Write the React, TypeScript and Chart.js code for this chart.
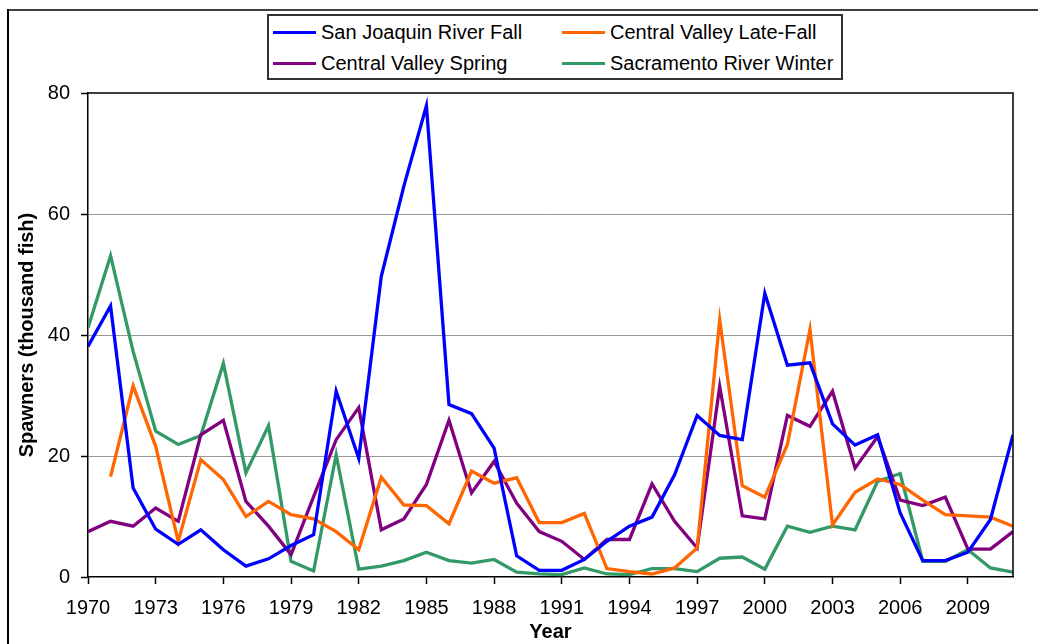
import React, { useEffect, useRef } from "react";
import { Chart, registerables } from "chart.js";

Chart.register(...registerables);

const years: number[] = [
  1970, 1971, 1972, 1973, 1974, 1975, 1976, 1977, 1978, 1979,
  1980, 1981, 1982, 1983, 1984, 1985, 1986, 1987, 1988, 1989,
  1990, 1991, 1992, 1993, 1994, 1995, 1996, 1997, 1998, 1999,
  2000, 2001, 2002, 2003, 2004, 2005, 2006, 2007, 2008, 2009,
  2010, 2011,
];

const tickYears: number[] = [1970, 1973, 1976, 1979, 1982, 1985, 1988, 1991, 1994, 1997, 2000, 2003, 2006, 2009];

const sanJoaquinFall: (number | null)[] = [
  38.1, 44.8, 14.7, 7.9, 5.4, 7.8, 4.5, 1.8, 3.0, 5.2,
  7.0, 30.7, 19.6, 49.7, 64.6, 77.9, 28.5, 27.0, 21.3, 3.5,
  1.1, 1.1, 2.9, 5.9, 8.4, 9.9, 16.9, 26.7, 23.4, 22.7,
  46.9, 35.0, 35.4, 25.3, 21.8, 23.5, 10.6, 2.7, 2.7, 4.1,
  9.5, 23.5,
];

const cvLateFall: (number | null)[] = [
  null, 16.6, 31.6, 21.6, 5.9, 19.4, 16.1, 10.0, 12.5, 10.3,
  9.6, 7.5, 4.5, 16.5, 11.9, 11.8, 8.8, 17.5, 15.5, 16.4,
  9.0, 9.0, 10.5, 1.4, 0.9, 0.5, 1.5, 4.8, 42.5, 15.1,
  13.2, 21.9, 40.9, 8.6, 14.0, 16.2, 15.3, 12.7, 10.3, 10.1,
  9.9, 8.4,
];

const cvSpring: (number | null)[] = [
  7.5, 9.2, 8.4, 11.4, 9.2, 23.5, 25.9, 12.5, 8.4, 3.7,
  13.3, 22.7, 28.0, 7.8, 9.6, 15.3, 25.9, 13.9, 19.1, 12.2,
  7.5, 5.9, 2.9, 6.2, 6.2, 15.4, 9.2, 4.8, 31.5, 10.1,
  9.6, 26.7, 24.9, 30.7, 18.0, 23.2, 12.7, 11.8, 13.2, 4.6,
  4.6, 7.5,
];

const sacWinter: (number | null)[] = [
  41.2, 53.1, 37.3, 24.1, 21.9, 23.4, 35.3, 17.2, 25.0, 2.6,
  1.0, 20.2, 1.3, 1.8, 2.7, 4.1, 2.7, 2.3, 2.9, 0.8,
  0.5, 0.4, 1.5, 0.5, 0.4, 1.4, 1.4, 0.9, 3.1, 3.3,
  1.3, 8.4, 7.4, 8.4, 7.8, 15.8, 17.1, 2.6, 2.6, 4.5,
  1.5, 0.8,
];

const seriesNames: string[] = [
  "San Joaquin River Fall",
  "Central Valley Late-Fall",
  "Central Valley Spring",
  "Sacramento River Winter",
];
const seriesColors: string[] = ["#0000FF", "#FF6600", "#800080", "#339966"];
const seriesValues = [sanJoaquinFall, cvLateFall, cvSpring, sacWinter];

const FONT = "Arial, 'Liberation Sans', sans-serif";

const plotBorder = {
  id: "plotBorder",
  afterDraw(chart: any) {
    const { ctx, chartArea } = chart;
    ctx.save();
    ctx.strokeStyle = "#000";
    ctx.lineWidth = 1.5;
    ctx.beginPath();
    ctx.moveTo(chartArea.left, chartArea.top);
    ctx.lineTo(chartArea.right, chartArea.top);
    ctx.lineTo(chartArea.right, chartArea.bottom);
    ctx.stroke();
    ctx.restore();
  },
};

export default function App() {
  const ref = useRef<HTMLCanvasElement | null>(null);

  useEffect(() => {
    document.body.style.margin = "0";
    const canvas = ref.current;
    if (!canvas) return;
    const chart = new Chart(canvas, {
      type: "line",
      data: {
        datasets: seriesNames.map((name, i) => ({
          label: name,
          data: years.map((y, j) => ({ x: y, y: seriesValues[i][j] })) as any,
          borderColor: seriesColors[i],
          backgroundColor: seriesColors[i],
          borderWidth: 3.3,
          pointRadius: 0,
          tension: 0,
          spanGaps: false,
          fill: false,
        })),
      },
      options: {
        responsive: false,
        animation: false,
        layout: { padding: { top: 93, right: 25, left: 0, bottom: 0 } },
        plugins: {
          legend: { display: false },
          tooltip: { enabled: false },
        },
        scales: {
          x: {
            type: "linear",
            min: 1970,
            max: 2011,
            afterBuildTicks: (scale: any) => {
              scale.ticks = tickYears.map((v) => ({ value: v }));
            },
            afterFit: (scale: any) => {
              scale.height = 67;
            },
            ticks: {
              autoSkip: false,
              maxRotation: 0,
              padding: 12,
              color: "#000",
              font: { family: FONT, size: 20 },
              callback: (v: any) => String(v),
            },
            grid: {
              drawOnChartArea: false,
              drawTicks: true,
              tickLength: 7,
              tickColor: "#000",
              tickWidth: 1.5,
            },
            border: { display: true, color: "#000", width: 1.5 },
            title: {
              display: true,
              text: "Year",
              color: "#000",
              font: { family: FONT, size: 20, weight: "bold" },
              padding: { top: 0, bottom: 0 },
            },
          },
          y: {
            min: 0,
            max: 80,
            afterFit: (scale: any) => {
              scale.width = 88;
            },
            ticks: {
              stepSize: 20,
              padding: 11,
              color: "#000",
              font: { family: FONT, size: 20 },
            },
            grid: {
              color: (c: any) =>
                c.tick && (c.tick.value === 0 || c.tick.value === 80) ? "rgba(0,0,0,0)" : "#999999",
              lineWidth: 1,
              drawTicks: true,
              tickLength: 7,
              tickColor: "#000",
              tickWidth: 1.5,
            },
            border: { display: true, color: "#000", width: 1.5 },
            title: {
              display: true,
              text: "Spawners (thousand fish)",
              color: "#000",
              font: { family: FONT, size: 20, weight: "bold" },
              padding: { top: 15, bottom: 0 },
            },
          },
        },
      },
      plugins: [plotBorder],
    });
    return () => chart.destroy();
  }, []);

  const legendRows = [
    [0, 1],
    [2, 3],
  ];

  return (
    <div style={{ position: "relative", width: 1038, height: 644, overflow: "hidden", background: "#fff" }}>
      <canvas ref={ref} width={1038} height={644} style={{ position: "absolute", left: 0, top: 0 }} />
      <div style={{ position: "absolute", left: 7, top: 9, right: 0, height: 2, background: "#404040" }} />
      <div style={{ position: "absolute", left: 7, top: 9, bottom: 0, width: 1.5, background: "#000" }} />
      <div
        style={{
          position: "absolute",
          left: 267,
          top: 14,
          width: 576,
          height: 66,
          boxSizing: "border-box",
          border: "2px solid #333",
          background: "#fff",
          fontFamily: FONT,
          fontSize: 20,
          color: "#000",
        }}
      >
        {legendRows.map((row, r) =>
          row.map((si, c) => (
            <div
              key={si}
              style={{
                position: "absolute",
                left: c === 0 ? 4 : 293,
                top: r === 0 ? 4 : 35,
                height: 24,
                display: "flex",
                alignItems: "center",
                whiteSpace: "nowrap",
              }}
            >
              <div style={{ width: 43, height: 3, background: seriesColors[si], marginRight: 5 }} />
              <span>{seriesNames[si]}</span>
            </div>
          ))
        )}
      </div>
    </div>
  );
}
